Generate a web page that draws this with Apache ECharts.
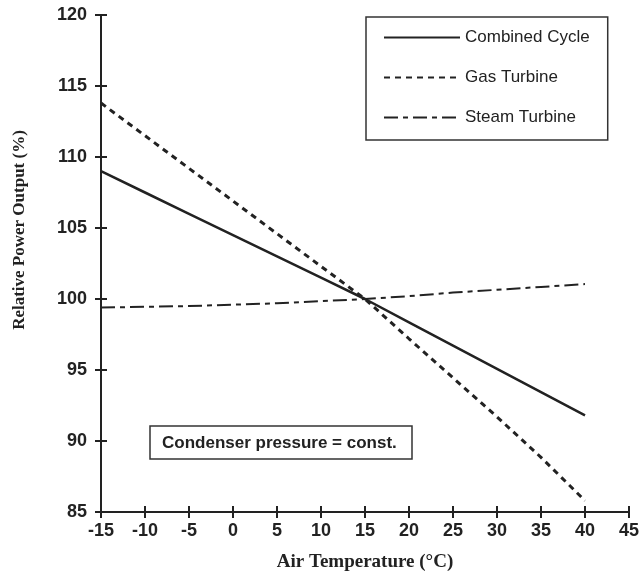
<!DOCTYPE html>
<html>
<head>
<meta charset="utf-8">
<script src="https://cdn.jsdelivr.net/npm/echarts@6/dist/echarts.min.js"></script>
<style>
  html, body { margin: 0; padding: 0; background: #fff; }
  #chart { width: 642px; height: 576px; }
</style>
</head>
<body>
<div id="chart"></div>
<script>
// air temperature (°C)
const temps = [-15, -10, -5, 0, 5, 10, 15, 20, 25, 30, 35, 40];
// relative power output (%)
const combinedCycle = [109, 107.5, 106, 104.5, 103, 101.5, 100, 98.36, 96.72, 95.08, 93.44, 91.8];
const gasTurbine = [113.8, 111.5, 109.2, 106.9, 104.6, 102.3, 100, 97.2, 94.45, 91.7, 88.85, 85.8];
const steamTurbine = [99.4, 99.45, 99.5, 99.6, 99.7, 99.85, 100, 100.2, 100.45, 100.65, 100.85, 101.05];
const seriesNames = ["Combined Cycle", "Gas Turbine", "Steam Turbine"];
const note = "Condenser pressure = const.";

const ink = "#222";
const pairs = (vals) => temps.map((t, i) => [t, vals[i]]);

const chart = echarts.init(document.getElementById("chart"));

const xCommon = {
  type: "value", min: -15, max: 45, interval: 5, position: "bottom",
  splitLine: { show: false },
};
const yCommon = {
  type: "value", min: 85, max: 120, interval: 5, position: "left",
  splitLine: { show: false },
};

const option = {
  backgroundColor: "#fff",
  animation: false,
  grid: { left: 101, right: 13, top: 15, bottom: 64, outerBoundsMode: "none" },
  legend: {
    orient: "vertical",
    left: 366, top: 17,
    padding: [12, 18, 14, 17],
    itemGap: 23,
    itemWidth: 76,
    itemHeight: 16,
    borderColor: "#333",
    borderWidth: 1.5,
    data: seriesNames,
    // hide the circle drawn in the middle of each line icon
    itemStyle: { opacity: 0 },
    textStyle: { fontFamily: "Liberation Sans, Arial", fontSize: 17, color: ink },
  },
  // the second x / y axis only adds the inner half of the crossing ticks
  xAxis: [
    Object.assign({}, xCommon, {
      name: "Air Temperature (°C)",
      nameLocation: "middle",
      nameGap: 41,
      nameTextStyle: { fontFamily: "Liberation Serif, Times New Roman", fontWeight: "bold", fontSize: 19, color: ink },
      axisLine: { onZero: false, lineStyle: { color: ink, width: 2 } },
      axisTick: { inside: false, length: 6, lineStyle: { color: ink, width: 2 } },
      axisLabel: { margin: 10, fontFamily: "Liberation Sans, Arial", fontWeight: "bold", fontSize: 18, color: ink },
    }),
    Object.assign({}, xCommon, {
      axisLine: { show: false, onZero: false },
      axisTick: { show: true, inside: true, length: 6, lineStyle: { color: ink, width: 2 } },
      axisLabel: { show: false },
    }),
  ],
  yAxis: [
    Object.assign({}, yCommon, {
      axisLine: { onZero: false, lineStyle: { color: ink, width: 2 } },
      axisTick: { inside: false, length: 6, lineStyle: { color: ink, width: 2 } },
      axisLabel: { margin: 14, fontFamily: "Liberation Sans, Arial", fontWeight: "bold", fontSize: 18, color: ink },
    }),
    Object.assign({}, yCommon, {
      axisLine: { show: false, onZero: false },
      axisTick: { show: true, inside: true, length: 6, lineStyle: { color: ink, width: 2 } },
      axisLabel: { show: false },
    }),
  ],
  graphic: [
    {
      type: "text", x: 20, y: 230, rotation: Math.PI / 2,
      style: {
        text: "Relative Power Output (%)",
        font: "bold 17px 'Liberation Serif', 'Times New Roman', serif",
        fill: ink, align: "center", verticalAlign: "middle",
      },
    },
    {
      type: "rect",
      shape: { x: 150, y: 426, width: 262, height: 33 },
      style: { fill: "#fff", stroke: "#333", lineWidth: 1.5 },
    },
    {
      type: "text", x: 162, y: 443,
      style: {
        text: note,
        font: "bold 17px 'Liberation Sans', Arial, sans-serif",
        fill: ink, align: "left", verticalAlign: "middle",
      },
    },
  ],
  series: [
    {
      name: seriesNames[0], type: "line", data: pairs(combinedCycle),
      symbol: "none", color: ink,
      lineStyle: { color: ink, width: 2.5, type: "solid" },
    },
    {
      name: seriesNames[1], type: "line", data: pairs(gasTurbine),
      symbol: "none", color: ink,
      lineStyle: { color: ink, width: 3, type: [6, 5] },
    },
    {
      name: seriesNames[2], type: "line", data: pairs(steamTurbine),
      symbol: "none", color: ink,
      lineStyle: { color: ink, width: 2, type: [14, 5, 5, 5] },
    },
  ],
};

chart.setOption(option);
window.addEventListener("resize", () => chart.resize());
</script>
</body>
</html>
